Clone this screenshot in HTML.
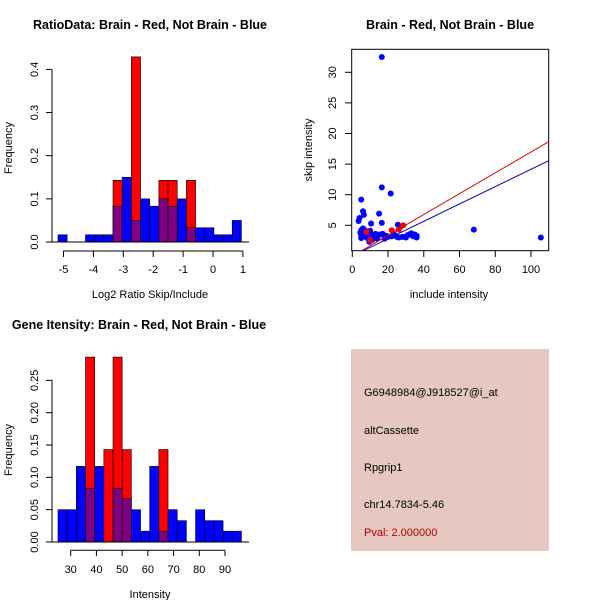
<!DOCTYPE html>
<html><head><style>body{margin:0;background:#fff}svg{display:block}text{font-family:"Liberation Sans",sans-serif;fill:#000}</style></head>
<body>
<svg id="s" width="600" height="600" xmlns="http://www.w3.org/2000/svg">
<rect width="600" height="600" fill="#fff"/>
<text x="150" y="29" font-size="12.5" font-weight="bold" text-anchor="middle">RatioData: Brain - Red, Not Brain - Blue</text>
<text x="450" y="29" font-size="12.5" font-weight="bold" text-anchor="middle">Brain - Red, Not Brain - Blue</text>
<text x="139" y="329" font-size="12.5" font-weight="bold" text-anchor="middle">Gene Itensity: Brain - Red, Not Brain - Blue</text>
<rect x="351" y="349" width="198" height="202" fill="#E6C8C0"/>
<g font-size="11">
<text x="364" y="396">G6948984@J918527@i_at</text>
<text x="364" y="434">altCassette</text>
<text x="364" y="471">Rpgrip1</text>
<text x="364" y="508">chr14.7834-5.46</text>
<text x="364" y="536" style="fill:#B00000">Pval: 2.000000</text>
</g>
<g id="g"></g>
</svg>
<script>
var g=document.getElementById('g'),h='';
function R(x,y,w,hh,c){h+='<rect x="'+x+'" y="'+y+'" width="'+w+'" height="'+hh+'" fill="'+c+'" stroke="#000" stroke-width="0.6"/>';}
function L(a,b,c,d,col,w){h+='<line x1="'+a+'" y1="'+b+'" x2="'+c+'" y2="'+d+'" stroke="'+(col||'#000')+'" stroke-width="'+(w||1)+'"/>';}
function T(x,y,t,rot,anc){h+='<text x="'+x+'" y="'+y+'" font-size="11" text-anchor="'+(anc||'middle')+'"'+(rot?' transform="rotate(-90 '+x+' '+y+')"':'')+'>'+t+'</text>';}
function hist(y0,sc,blue,red){var bw=9.17;
 for(var i=0;i<20;i++){var x=58+i*bw,b=blue[i],r=red[i];
  if(r>b){R(x,y0-r*sc,bw,r*sc,'#FF0000');}
  if(b>0){R(x,y0-b*sc,bw,b*sc,(r>0&&r>b)?'#7F0080':'#0000FF');}
 }
 L(49,y0,249,y0);}
var b1=[.0167,0,0,.0167,.0167,.0167,.083,.15,.05,.1,.083,.1,.083,.1,.033,.033,.033,.0167,.0167,.05];
var r1=[0,0,0,0,0,0,.143,0,.429,0,0,.143,.143,0,.143,0,0,0,0,0];
hist(242,431.5,b1,r1);
L(52,69.7,52,242);
for(var i=0;i<=4;i++){var y=242-i*43.15;L(46,y,52,y);T(38,y,(i/10).toFixed(1),1);}
L(63.5,251,243,251);
for(var v=-5;v<=1;v++){var x=63.5+(v+5)*29.9;L(x,251,x,257);T(x,273,v);}
T(150,298,'Log2 Ratio Skip/Include');T(12,148,'Frequency',1);
var b2=[.05,.05,.117,.083,.117,0,.083,.067,.05,.0167,.117,.0167,.05,.033,0,.05,.033,.033,.0167,.0167];
var r2=[0,0,0,.286,0,.143,.286,.143,0,0,0,.143,0,0,0,0,0,0,0,0];
hist(542,646.5,b2,r2);
L(52,380.3,52,542);
for(var i=0;i<=5;i++){var y=542-i*32.33;L(46,y,52,y);T(38,y,(i*0.05).toFixed(2),1);}
L(70.7,550.3,225,550.3);
for(var v=30;v<=90;v+=10){var x=70.7+(v-30)*2.572;L(x,550.3,x,556);T(x,573,v);}
T(150,598,'Intensity');T(12,450,'Frequency',1);
h+='<rect x="351.7" y="49.3" width="197" height="201.4" fill="none" stroke="#000"/>';
function X(v){return 352.3+v*1.787;}function Y(v){return 225.3-(v-5)*6.12;}
for(var v=0;v<=100;v+=20){L(X(v),250.7,X(v),257);T(X(v),273,v);}
for(var v=5;v<=30;v+=5){L(345,Y(v),351.7,Y(v));T(336,Y(v),v,1);}
T(449,298,'include intensity');T(312,150,'skip intensity',1);
var pts=[[16.5,32.5],[5,9.2],[16.5,11.2],[21.5,10.2],[6,7.3],[6.5,6.7],[15,6.9],[3.5,5.7],[4,6.2],[10.5,5.3],[16.5,5.4],[25.5,5.1],[27,4.8],[68,4.3],[105.5,3],[36,3],[36,3.3],[30,3.2],[33,3.7],[35,3.5],[5,4.2],[6,4.5],[7,4.2],[8,4],[5,3.2],[6,3.6],[7,3.4],[8,3],[9,2.8],[9.5,2.3],[10,3.7],[11,3.3],[12,2.9],[13,3.6],[14,3.1],[15,3.5],[18,2.8],[19,3.3],[20,3.1],[22,3.2],[23,3.7],[24,3.3],[25,3.1],[26,3],[28,3.1],[31,3.4],[5,2.9],[6,3.9],[7,4.0],[10,4.1],[12,3.4],[17,3.6],[14,2.8],[18,3.1],[30,3],[32,3.5],[34,3.2],[4.5,3.8],[9,3.5],[11,2.6]];
pts.forEach(function(p){h+='<circle cx="'+X(p[0])+'" cy="'+Y(p[1])+'" r="3" fill="#0000FF"/>';});
[[22,4.2],[26,4.3],[28.5,5],[8,3.9],[10,2.6]].forEach(function(p){h+='<circle cx="'+X(p[0])+'" cy="'+Y(p[1])+'" r="3" fill="#FF0000"/>';});
L(361.7,250.7,548.7,141.7,'#DD0000',1);
L(363.3,250.7,548.7,160.7,'#0000AA',1);
g.innerHTML=h;
</script>
</body></html>
